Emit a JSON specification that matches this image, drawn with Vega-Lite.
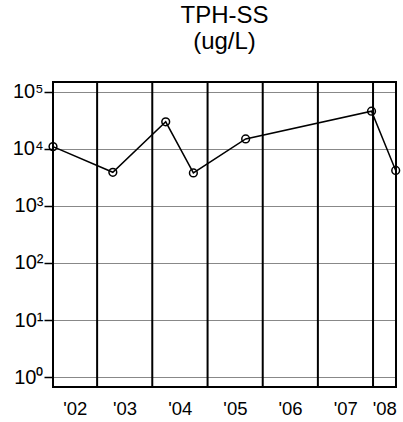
{
  "$schema": "https://vega.github.io/schema/vega-lite/v6.json",
  "autosize": "none",
  "width": 343,
  "height": 305,
  "padding": {"left": 53, "top": 82, "right": 7, "bottom": 35},
  "background": "white",
  "config": {
    "font": "Liberation Sans",
    "view": {"stroke": null}
  },
  "title": {
    "text": ["TPH-SS", "(ug/L)"],
    "fontSize": 24,
    "fontWeight": "normal",
    "color": "black",
    "lineHeight": 26,
    "anchor": "middle",
    "offset": 27
  },
  "datasets": {
    "samples": [
      {"date": "2002-03-15", "value": 11000},
      {"date": "2003-04-15", "value": 3900},
      {"date": "2004-03-30", "value": 30000},
      {"date": "2004-09-29", "value": 3800},
      {"date": "2005-09-10", "value": 15000},
      {"date": "2007-12-22", "value": 46000},
      {"date": "2008-05-30", "value": 4200}
    ],
    "yearStarts": [
      {"date": "2003-01-01"},
      {"date": "2004-01-01"},
      {"date": "2005-01-01"},
      {"date": "2006-01-01"},
      {"date": "2007-01-01"},
      {"date": "2008-01-01"}
    ],
    "plotFrame": [
      {"frame": "plot"}
    ]
  },
  "layer": [
    {
      "data": {"name": "yearStarts"},
      "mark": {"type": "rule", "color": "black", "strokeWidth": 2},
      "encoding": {
        "x": {"field": "date", "type": "temporal"}
      }
    },
    {
      "data": {"name": "samples"},
      "mark": {"type": "line", "color": "black", "strokeWidth": 1.5},
      "encoding": {
        "x": {
          "field": "date",
          "type": "temporal",
          "title": null,
          "scale": {
            "type": "utc",
            "domain": [
              {"year": 2002, "month": 3, "date": 15, "utc": true},
              {"year": 2008, "month": 6, "date": 1, "utc": true}
            ]
          },
          "axis": {
            "orient": "bottom",
            "values": [
              {"year": 2002, "month": 8, "date": 6, "utc": true},
              {"year": 2003, "month": 7, "date": 1, "utc": true},
              {"year": 2004, "month": 7, "date": 1, "utc": true},
              {"year": 2005, "month": 7, "date": 1, "utc": true},
              {"year": 2006, "month": 7, "date": 1, "utc": true},
              {"year": 2007, "month": 7, "date": 1, "utc": true},
              {"year": 2008, "month": 3, "date": 15, "utc": true}
            ],
            "labelExpr": "\"'\" + utcFormat(datum.value, '%y')",
            "ticks": false,
            "domain": false,
            "grid": false,
            "labelFontSize": 18.5,
            "labelColor": "black",
            "labelPadding": 12,
            "labelFlush": false,
            "labelOverlap": false
          }
        },
        "y": {
          "field": "value",
          "type": "quantitative",
          "title": null,
          "scale": {"type": "log", "domain": [0.668, 149600], "nice": false},
          "axis": {
            "orient": "left",
            "values": [1, 10, 100, 1000, 10000, 100000],
            "labelExpr": "'10' + ['⁰','¹','²','³','⁴','⁵'][round(log(datum.value) / LN10)]",
            "grid": true,
            "gridColor": "#888888",
            "gridWidth": 1,
            "domain": false,
            "tickColor": "black",
            "tickWidth": 1.5,
            "tickSize": 9,
            "labelFontSize": 20,
            "labelColor": "black",
            "labelPadding": 1,
            "labelFlush": false,
            "labelOverlap": false
          }
        }
      }
    },
    {
      "data": {"name": "samples"},
      "mark": {"type": "point", "shape": "circle", "filled": false, "color": "black", "strokeWidth": 1.5, "size": 60, "opacity": 1},
      "encoding": {
        "x": {"field": "date", "type": "temporal"},
        "y": {"field": "value", "type": "quantitative"}
      }
    },
    {
      "data": {"name": "plotFrame"},
      "mark": {"type": "rect", "fill": null, "fillOpacity": 0, "stroke": "black", "strokeWidth": 2},
      "encoding": {
        "x": {"value": 0},
        "x2": {"value": "width"},
        "y": {"value": 0},
        "y2": {"value": "height"}
      }
    }
  ]
}
